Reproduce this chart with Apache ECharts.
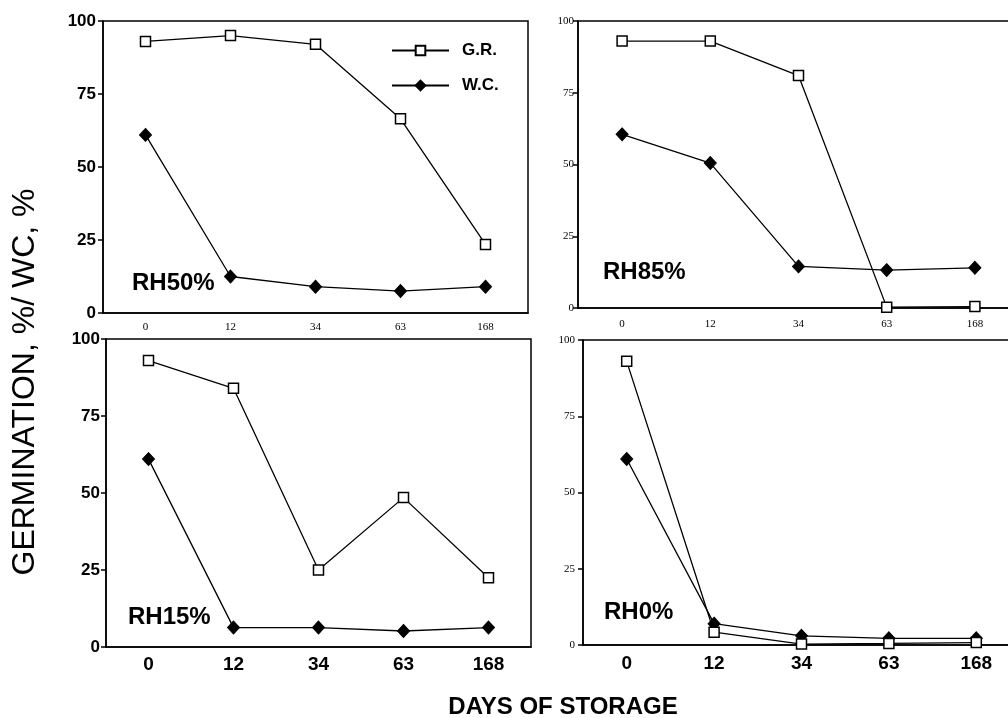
<!DOCTYPE html>
<html>
<head>
<meta charset="utf-8">
<title>Germination and water content during storage</title>
<script src="https://cdn.jsdelivr.net/npm/echarts@6/dist/echarts.min.js"></script>
<style>
    html, body { margin: 0; padding: 0; background: #fff; overflow: hidden; }
    /* a little wider than the page: the right-hand panels run off the scan */
    #main { width: 1020px; height: 718px; }
</style>
</head>
<body>
<div id="main"></div>
<script type="text/javascript">
    var days = ['0', '12', '34', '63', '168'];
    var yMin = 0, yMax = 100, yStep = 25;

    // G.R. = germination, W.C. = water content, one pair per storage humidity
    var grRH50 = [93, 95, 92, 66.5, 23.5];
    var wcRH50 = [61, 12.5, 9, 7.5, 9];
    var grRH85 = [93, 93, 81, 0.3, 0.5];
    var wcRH85 = [60.5, 50.5, 14.5, 13.2, 14];
    var grRH15 = [93, 84, 25, 48.5, 22.5];
    var wcRH15 = [61, 6.3, 6.3, 5.2, 6.3];
    var grRH0 = [93, 4.2, 0.3, 0.5, 0.8];
    var wcRH0 = [61, 7, 3, 2.2, 2.2];

    var myChart = echarts.init(document.getElementById('main'));

    var sans = 'Liberation Sans';
    var serif = 'Liberation Serif';

    var bigY = { fontFamily: sans, fontWeight: 'bold', fontSize: 17, color: '#000' };
    var smallY = { fontFamily: serif, fontSize: 11, color: '#000' };
    var bigX = { fontFamily: sans, fontWeight: 'bold', fontSize: 19, color: '#000' };
    var smallX = { fontFamily: serif, fontSize: 11, color: '#000' };

    var panels = [
        { name: 'RH50%', gr: grRH50, wc: wcRH50, box: { left: 103, top: 21, width: 425, height: 292 },
          yl: bigY, ym: 7, xl: smallX, xm: 9, tag: [132, 283] },
        { name: 'RH85%', gr: grRH85, wc: wcRH85, box: { left: 578, top: 21, width: 441, height: 287 },
          yl: smallY, ym: 4, xl: smallX, xm: 11, tag: [603, 272] },
        { name: 'RH15%', gr: grRH15, wc: wcRH15, box: { left: 106, top: 339, width: 425, height: 308 },
          yl: bigY, ym: 6, xl: bigX, xm: 8, tag: [128, 617] },
        { name: 'RH0%', gr: grRH0, wc: wcRH0, box: { left: 583, top: 340, width: 437, height: 305 },
          yl: smallY, ym: 8, xl: bigX, xm: 9, tag: [604, 612] }
    ];

    var grids = [], xAxes = [], yAxes = [], series = [], graphics = [];
    var black = { color: '#000', width: 1.5 };

    panels.forEach(function (p, i) {
        grids.push({
            left: p.box.left, top: p.box.top, width: p.box.width, height: p.box.height,
            show: true, borderColor: '#000', borderWidth: 1.5, backgroundColor: 'transparent'
        });
        xAxes.push({
            type: 'category',
            gridIndex: i,
            data: days,
            boundaryGap: true,
            axisLine: { lineStyle: black },
            axisTick: { alignWithLabel: true, length: 5, lineStyle: black },
            axisLabel: Object.assign({ margin: p.xm }, p.xl),
            splitLine: { show: false }
        });
        yAxes.push({
            type: 'value',
            gridIndex: i,
            min: yMin,
            max: yMax,
            interval: yStep,
            axisLine: { show: true, lineStyle: black },
            axisTick: { show: true, length: 5, lineStyle: black },
            axisLabel: Object.assign({ margin: p.ym }, p.yl),
            splitLine: { show: false }
        });
        series.push({
            name: 'W.C.',
            type: 'line',
            xAxisIndex: i,
            yAxisIndex: i,
            data: p.wc,
            symbol: 'diamond',
            symbolSize: [12, 13],
            lineStyle: { color: '#000', width: 1.3 },
            itemStyle: { color: '#000', borderColor: '#000', borderWidth: 1 },
            z: 3
        });
        series.push({
            name: 'G.R.',
            type: 'line',
            xAxisIndex: i,
            yAxisIndex: i,
            data: p.gr,
            symbol: 'rect',
            symbolSize: 10,
            lineStyle: { color: '#000', width: 1.3 },
            itemStyle: { color: '#fff', borderColor: '#000', borderWidth: 1.5 },
            z: 4
        });
        graphics.push({
            type: 'text',
            x: p.tag[0],
            y: p.tag[1],
            style: {
                text: p.name,
                font: 'bold 24px "Liberation Sans"',
                fill: '#000',
                align: 'left',
                verticalAlign: 'middle'
            }
        });
    });

    graphics.push({
        type: 'text',
        x: 25,
        y: 382,
        rotation: Math.PI / 2,
        style: {
            text: 'GERMINATION, %/ WC, %',
            font: '32px "Liberation Sans"',
            fill: '#000',
            align: 'center',
            verticalAlign: 'middle'
        }
    });
    graphics.push({
        type: 'text',
        x: 563,
        y: 707,
        style: {
            text: 'DAYS OF STORAGE',
            font: 'bold 24px "Liberation Sans"',
            fill: '#000',
            align: 'center',
            verticalAlign: 'middle'
        }
    });

    var option = {
        backgroundColor: '#fff',
        animation: false,
        legend: {
            orient: 'vertical',
            left: 386,
            top: 37,
            itemWidth: 57,
            itemHeight: 12,
            itemGap: 18,
            data: ['G.R.', 'W.C.'],
            textStyle: { fontFamily: sans, fontWeight: 'bold', fontSize: 17, color: '#000', padding: [0, 0, 0, 8] }
        },
        grid: grids,
        xAxis: xAxes,
        yAxis: yAxes,
        series: series,
        graphic: graphics
    };
    myChart.setOption(option);
</script>
</body>
</html>
